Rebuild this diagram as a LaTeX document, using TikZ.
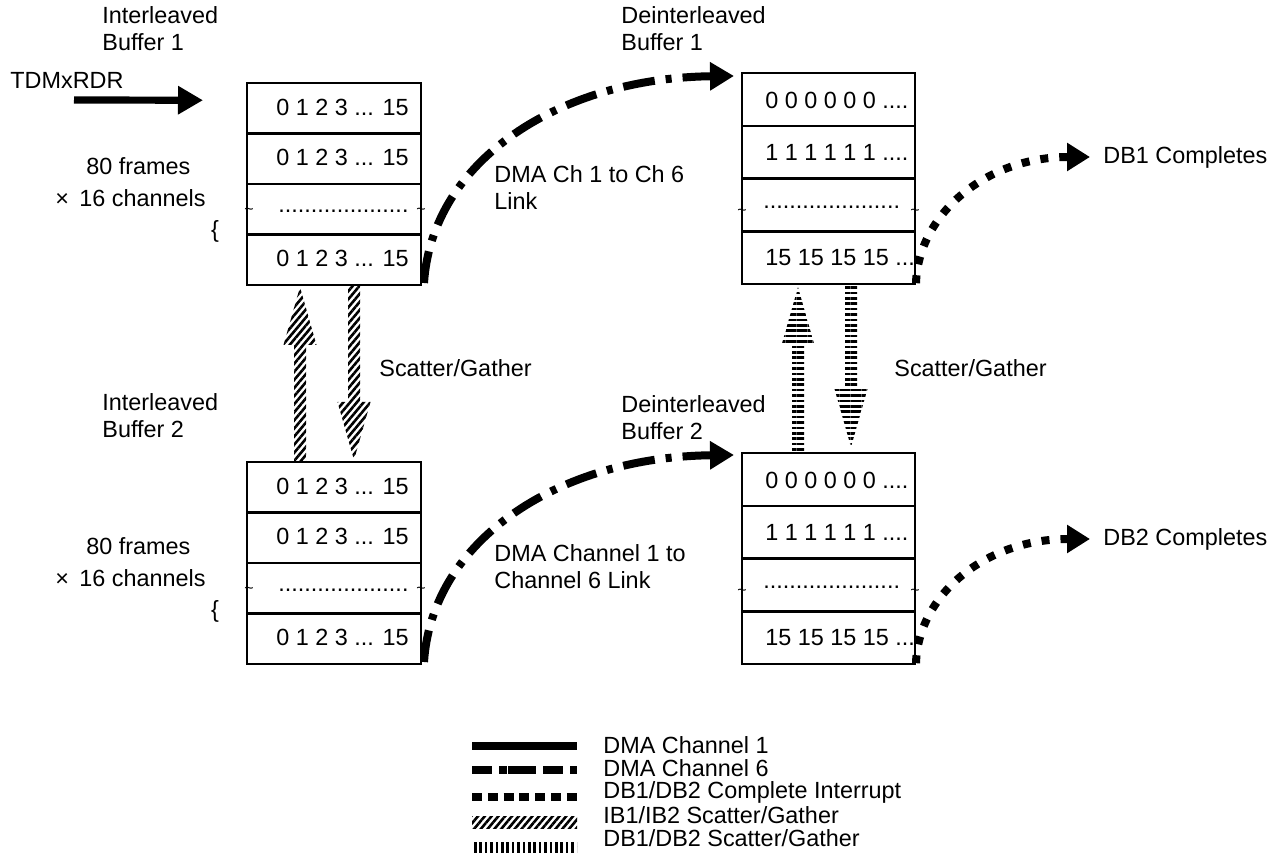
\documentclass[tikz,border=0pt]{standalone}
\usepackage{fontspec}
\setmainfont{Liberation Sans}
\usetikzlibrary{arrows.meta,calc,patterns.meta}

% vertical block arrows with a hatched fill: #1 style, #2 tail, #3 tip
\newcommand\uparrowblk[3]{%
  \path[#1] let \p1=(#2), \p2=(#3) in
    (\x1-3pt,\y1) -- (\x1-3pt,\y2-29pt) -- (\x1-8.25pt,\y2-29pt) -- (\x1,\y2)
    -- (\x1+8.25pt,\y2-29pt) -- (\x1+3pt,\y2-29pt) -- (\x1+3pt,\y1) -- cycle;}
\newcommand\downarrowblk[3]{%
  \path[#1] let \p1=(#2), \p2=(#3) in
    (\x1-3pt,\y1) -- (\x1-3pt,\y2+29pt) -- (\x1-8.25pt,\y2+29pt) -- (\x1,\y2)
    -- (\x1+8.25pt,\y2+29pt) -- (\x1+3pt,\y2+29pt) -- (\x1+3pt,\y1) -- cycle;}

\begin{document}
\begin{tikzpicture}[x=0.5pt,y=-0.5pt,
  every node/.style={font=\fontsize{11.7}{13.5}\selectfont, inner sep=0pt},
  ibrow/.style={draw, line width=1.2pt, outer sep=0pt, minimum width=87pt, minimum height=25.25pt},
  dbrow/.style={draw, line width=1.2pt, outer sep=0pt, minimum width=86.5pt, minimum height=26.4pt},
  cell/.style={anchor=west},
  tld/.style={font=\fontsize{8}{8}\selectfont},
  lbl/.style={anchor=north west, align=left},
  txt/.style={anchor=west},
  ch1/.style={line width=3.6pt, -{Triangle[length=12.5pt,width=13.5pt]}},
  ch6/.style={line width=4pt, dash pattern=on 16pt off 5.5pt on 3pt off 5.5pt, -{Triangle[length=12pt,width=13.5pt]}},
  irq/.style={line width=4pt, dash pattern=on 4pt off 5.5pt, -{Triangle[length=11.5pt,width=13.5pt]}},
  ibsg/.style={pattern={Lines[angle=50,distance=2.6pt,line width=1.3pt]}},
  dbsg/.style={pattern={Lines[angle=0,distance=2.7pt,line width=1.3pt]}},
  dbsgv/.style={pattern={Lines[angle=90,distance=2.7pt,line width=1.3pt]}},
]
\useasboundingbox (0,0) rectangle (1271,860);

% ---------- interleaved buffer 1 ----------
\node[ibrow] (ib1a) at (334,108.25) {};
\node[ibrow,anchor=north] (ib1b) at (ib1a.south) {};
\node[ibrow,anchor=north] (ib1c) at (ib1b.south) {};
\node[ibrow,anchor=north] (ib1d) at (ib1c.south) {};
\node[cell] (ib1at) at ($(ib1a.west)+(29,-1)$) {0 1 2 3 ... 15};
\node[cell] (ib1bt) at ($(ib1b.west)+(29,-1)$) {0 1 2 3 ... 15};
\node[cell] (ib1ct) at ($(ib1c.west)+(31,2)$) {....................};
\node[cell] (ib1dt) at ($(ib1d.west)+(29,-1)$) {0 1 2 3 ... 15};
\node[tld] (ib1cl) at ($(ib1c.west)+(2,2.5)$) {\textasciitilde};
\node[tld] (ib1cr) at ($(ib1c.east)+(0,2.5)$) {\textasciitilde};

% ---------- interleaved buffer 2 ----------
\node[ibrow] (ib2a) at (334,487.25) {};
\node[ibrow,anchor=north] (ib2b) at (ib2a.south) {};
\node[ibrow,anchor=north] (ib2c) at (ib2b.south) {};
\node[ibrow,anchor=north] (ib2d) at (ib2c.south) {};
\node[cell] (ib2at) at ($(ib2a.west)+(29,-1)$) {0 1 2 3 ... 15};
\node[cell] (ib2bt) at ($(ib2b.west)+(29,-1)$) {0 1 2 3 ... 15};
\node[cell] (ib2ct) at ($(ib2c.west)+(31,2)$) {....................};
\node[cell] (ib2dt) at ($(ib2d.west)+(29,-1)$) {0 1 2 3 ... 15};
\node[tld] (ib2cl) at ($(ib2c.west)+(2,2.5)$) {\textasciitilde};
\node[tld] (ib2cr) at ($(ib2c.east)+(0,2.5)$) {\textasciitilde};

% ---------- deinterleaved buffer 1 ----------
\node[dbrow] (db1a) at (828.5,99.4) {};
\node[dbrow,anchor=north] (db1b) at (db1a.south) {};
\node[dbrow,anchor=north] (db1c) at (db1b.south) {};
\node[dbrow,anchor=north] (db1d) at (db1c.south) {};
\node[cell] (db1at) at ($(db1a.west)+(23,1)$) {0 0 0 0 0 0 ....};
\node[cell] (db1bt) at ($(db1b.west)+(23,0)$) {1 1 1 1 1 1 ....};
\node[cell] (db1ct) at ($(db1c.west)+(21,2)$) {.....................};
\node[cell] (db1dt) at ($(db1d.west)+(23,0)$) {15 15 15 15 ...};
\node[tld] (db1cl) at ($(db1c.west)+(0,7)$) {\textasciitilde};
\node[tld] (db1cr) at ($(db1c.east)+(0,7)$) {\textasciitilde};

% ---------- deinterleaved buffer 2 ----------
\node[dbrow] (db2a) at (828.5,479.4) {};
\node[dbrow,anchor=north] (db2b) at (db2a.south) {};
\node[dbrow,anchor=north] (db2c) at (db2b.south) {};
\node[dbrow,anchor=north] (db2d) at (db2c.south) {};
\node[cell] (db2at) at ($(db2a.west)+(23,1)$) {0 0 0 0 0 0 ....};
\node[cell] (db2bt) at ($(db2b.west)+(23,0)$) {1 1 1 1 1 1 ....};
\node[cell] (db2ct) at ($(db2c.west)+(21,2)$) {.....................};
\node[cell] (db2dt) at ($(db2d.west)+(23,0)$) {15 15 15 15 ...};
\node[tld] (db2cl) at ($(db2c.west)+(0,7)$) {\textasciitilde};
\node[tld] (db2cr) at ($(db2c.east)+(0,7)$) {\textasciitilde};

% ---------- captions ----------
\node[lbl] (ib1lbl) at (102,6.5) {Interleaved\\Buffer 1};
\node[lbl] (ib2lbl) at (102,393) {Interleaved\\Buffer 2};
\node[lbl] (db1lbl) at (621,6.5) {Deinterleaved\\Buffer 1};
\node[lbl] (db2lbl) at (621,395) {Deinterleaved\\Buffer 2};
\node[txt] (tdm) at (10,80) {TDMxRDR};
\node[txt] (fr1) at (86,166) {80 frames};
\node[txt] (ch1n) at (55,198) {×\, 16 channels};
\node (br1) at (215,231) {\{};
\node[txt] (fr2) at (86,546) {80 frames};
\node[txt] (ch2n) at (55,578) {×\, 16 channels};
\node (br2) at (215,611) {\{};
\node[lbl] (lk1) at (494,165.5) {DMA Ch 1 to Ch 6\\Link};
\node[lbl] (lk2) at (494,544.5) {DMA Channel 1 to\\Channel 6 Link};
\node[txt] (sg1) at (379,368) {Scatter/Gather};
\node[txt] (sg2) at (894,368) {Scatter/Gather};
\node[txt, inner xsep=6.5pt] (dbc1) at (1090,157) {DB1 Completes};
\node[txt, inner xsep=6.5pt] (dbc2) at (1090,539) {DB2 Completes};

% ---------- input stream ----------
\draw[ch1] ($(tdm.west)+(64,20)$) -- ($(ib1a.west)+(-44,-8)$);

% ---------- channel 1 to channel 6 links ----------
\draw[ch6] ($(ib1d.south east)+(3,-2)$) .. controls +(8,-123) and +(-174,2) .. ($(db1a.north west)+(-8,3)$);
\draw[ch6] ($(ib2d.south east)+(3,-2)$) .. controls +(8,-123) and +(-174,2) .. ($(db2a.north west)+(-8,2)$);

% ---------- completion interrupts ----------
\draw[irq] ($(db1d.south east)+(1,-1)$) .. controls +(2,-68) and +(-105,0) .. (dbc1.west);
\draw[irq] ($(db2d.south east)+(1,-1)$) .. controls +(2,-68) and +(-105,0) .. (dbc2.west);

% ---------- scatter/gather transfers ----------
\uparrowblk{ibsg}{$(ib2a.north)+(-34,0)$}{$(ib1d.south)+(-34,2)$}
\downarrowblk{ibsg}{$(ib1d.south)+(20,0)$}{$(ib2a.north)+(20,-2)$}
\uparrowblk{dbsg}{$(db2a.north)+(-30.5,0)$}{$(db1d.south)+(-30.5,3)$}
\downarrowblk{dbsg}{$(db1d.south)+(22.5,0)$}{$(db2a.north)+(22.5,-6)$}

% ---------- legend ----------
\node[txt] (lg1) at (603,745) {DMA Channel 1};
\node[txt] (lg2) at (603,768) {DMA Channel 6};
\node[txt] (lg3) at (603,792) {DB1/DB2 Complete Interrupt};
\node[txt] (lg4) at (603,815) {IB1/IB2 Scatter/Gather};
\node[txt] (lg5) at (603,838) {DB1/DB2 Scatter/Gather};
\draw[line width=3.6pt] ($(lg1.west)+(-131,1)$) -- ($(lg1.west)+(-26,1)$);
\draw[line width=3.8pt, dash pattern=on 10pt off 3.5pt on 4pt off 0.6pt on 14pt off 3.5pt]
  ($(lg2.west)+(-131,2)$) -- ($(lg2.west)+(-26,2)$);
\draw[line width=4pt, dash pattern=on 5pt off 2.9pt] ($(lg3.west)+(-131,5)$) -- ($(lg3.west)+(-26,5)$);
\path[ibsg] ($(lg4.west)+(-131,2)$) rectangle ($(lg4.west)+(-26,14)$);
\path[dbsgv] ($(lg5.west)+(-131,5)$) rectangle ($(lg5.west)+(-26,15)$);
\end{tikzpicture}
\end{document}
